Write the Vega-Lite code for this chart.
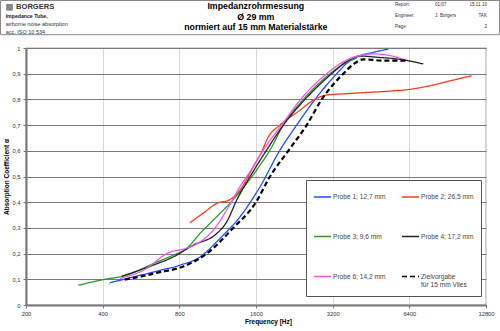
{
  "$schema": "https://vega.github.io/schema/vega-lite/v6.json",
  "width": 460,
  "height": 257,
  "autosize": {"type": "none"},
  "padding": {"left": 26, "top": 48, "right": 14, "bottom": 26},
  "background": "white",
  "config": {
    "font": "Liberation Sans",
    "view": {"stroke": "#666", "strokeWidth": 1.2}
  },
  "datasets": {
    "curves": [
      {"series": "Probe 1; 12,7 mm", "frequency": 425, "alpha": 0.086},
      {"series": "Probe 1; 12,7 mm", "frequency": 528, "alpha": 0.109},
      {"series": "Probe 1; 12,7 mm", "frequency": 672, "alpha": 0.135},
      {"series": "Probe 1; 12,7 mm", "frequency": 805, "alpha": 0.155},
      {"series": "Probe 1; 12,7 mm", "frequency": 964, "alpha": 0.187},
      {"series": "Probe 1; 12,7 mm", "frequency": 1155, "alpha": 0.259},
      {"series": "Probe 1; 12,7 mm", "frequency": 1384, "alpha": 0.343},
      {"series": "Probe 1; 12,7 mm", "frequency": 1659, "alpha": 0.46},
      {"series": "Probe 1; 12,7 mm", "frequency": 1988, "alpha": 0.603},
      {"series": "Probe 1; 12,7 mm", "frequency": 2311, "alpha": 0.7},
      {"series": "Probe 1; 12,7 mm", "frequency": 2728, "alpha": 0.8},
      {"series": "Probe 1; 12,7 mm", "frequency": 3318, "alpha": 0.9},
      {"series": "Probe 1; 12,7 mm", "frequency": 3632, "alpha": 0.94},
      {"series": "Probe 1; 12,7 mm", "frequency": 4096, "alpha": 0.97},
      {"series": "Probe 1; 12,7 mm", "frequency": 4620, "alpha": 0.983},
      {"series": "Probe 1; 12,7 mm", "frequency": 5292, "alpha": 0.996},

      {"series": "Probe 2; 26,5 mm", "frequency": 881, "alpha": 0.32},
      {"series": "Probe 2; 26,5 mm", "frequency": 1000, "alpha": 0.36},
      {"series": "Probe 2; 26,5 mm", "frequency": 1121, "alpha": 0.395},
      {"series": "Probe 2; 26,5 mm", "frequency": 1265, "alpha": 0.41},
      {"series": "Probe 2; 26,5 mm", "frequency": 1384, "alpha": 0.447},
      {"series": "Probe 2; 26,5 mm", "frequency": 1561, "alpha": 0.538},
      {"series": "Probe 2; 26,5 mm", "frequency": 1690, "alpha": 0.6},
      {"series": "Probe 2; 26,5 mm", "frequency": 1789, "alpha": 0.654},
      {"series": "Probe 2; 26,5 mm", "frequency": 1988, "alpha": 0.7},
      {"series": "Probe 2; 26,5 mm", "frequency": 2382, "alpha": 0.758},
      {"series": "Probe 2; 26,5 mm", "frequency": 2686, "alpha": 0.797},
      {"series": "Probe 2; 26,5 mm", "frequency": 3032, "alpha": 0.817},
      {"series": "Probe 2; 26,5 mm", "frequency": 3600, "alpha": 0.822},
      {"series": "Probe 2; 26,5 mm", "frequency": 4352, "alpha": 0.827},
      {"series": "Probe 2; 26,5 mm", "frequency": 5300, "alpha": 0.832},
      {"series": "Probe 2; 26,5 mm", "frequency": 6400, "alpha": 0.839},
      {"series": "Probe 2; 26,5 mm", "frequency": 7946, "alpha": 0.856},
      {"series": "Probe 2; 26,5 mm", "frequency": 9520, "alpha": 0.875},
      {"series": "Probe 2; 26,5 mm", "frequency": 11240, "alpha": 0.892},

      {"series": "Probe 3; 9,6 mm", "frequency": 321, "alpha": 0.077},
      {"series": "Probe 3; 9,6 mm", "frequency": 403, "alpha": 0.099},
      {"series": "Probe 3; 9,6 mm", "frequency": 497, "alpha": 0.116},
      {"series": "Probe 3; 9,6 mm", "frequency": 632, "alpha": 0.161},
      {"series": "Probe 3; 9,6 mm", "frequency": 757, "alpha": 0.194},
      {"series": "Probe 3; 9,6 mm", "frequency": 855, "alpha": 0.22},
      {"series": "Probe 3; 9,6 mm", "frequency": 964, "alpha": 0.278},
      {"series": "Probe 3; 9,6 mm", "frequency": 1155, "alpha": 0.356},
      {"series": "Probe 3; 9,6 mm", "frequency": 1303, "alpha": 0.41},
      {"series": "Probe 3; 9,6 mm", "frequency": 1471, "alpha": 0.473},
      {"series": "Probe 3; 9,6 mm", "frequency": 1659, "alpha": 0.544},
      {"series": "Probe 3; 9,6 mm", "frequency": 1816, "alpha": 0.603},
      {"series": "Probe 3; 9,6 mm", "frequency": 2048, "alpha": 0.7},
      {"series": "Probe 3; 9,6 mm", "frequency": 2454, "alpha": 0.8},
      {"series": "Probe 3; 9,6 mm", "frequency": 3124, "alpha": 0.9},
      {"series": "Probe 3; 9,6 mm", "frequency": 3632, "alpha": 0.945},
      {"series": "Probe 3; 9,6 mm", "frequency": 3976, "alpha": 0.96},

      {"series": "Probe 4; 17,2 mm", "frequency": 475, "alpha": 0.112},
      {"series": "Probe 4; 17,2 mm", "frequency": 632, "alpha": 0.155},
      {"series": "Probe 4; 17,2 mm", "frequency": 757, "alpha": 0.187},
      {"series": "Probe 4; 17,2 mm", "frequency": 908, "alpha": 0.233},
      {"series": "Probe 4; 17,2 mm", "frequency": 1121, "alpha": 0.278},
      {"series": "Probe 4; 17,2 mm", "frequency": 1227, "alpha": 0.323},
      {"series": "Probe 4; 17,2 mm", "frequency": 1344, "alpha": 0.408},
      {"series": "Probe 4; 17,2 mm", "frequency": 1515, "alpha": 0.499},
      {"series": "Probe 4; 17,2 mm", "frequency": 1762, "alpha": 0.603},
      {"series": "Probe 4; 17,2 mm", "frequency": 2048, "alpha": 0.7},
      {"series": "Probe 4; 17,2 mm", "frequency": 2492, "alpha": 0.8},
      {"series": "Probe 4; 17,2 mm", "frequency": 3172, "alpha": 0.9},
      {"series": "Probe 4; 17,2 mm", "frequency": 3632, "alpha": 0.947},
      {"series": "Probe 4; 17,2 mm", "frequency": 4096, "alpha": 0.969},
      {"series": "Probe 4; 17,2 mm", "frequency": 4764, "alpha": 0.964},
      {"series": "Probe 4; 17,2 mm", "frequency": 5880, "alpha": 0.956},
      {"series": "Probe 4; 17,2 mm", "frequency": 7262, "alpha": 0.938},

      {"series": "Probe 6; 14,2 mm", "frequency": 468, "alpha": 0.103},
      {"series": "Probe 6; 14,2 mm", "frequency": 578, "alpha": 0.135},
      {"series": "Probe 6; 14,2 mm", "frequency": 735, "alpha": 0.206},
      {"series": "Probe 6; 14,2 mm", "frequency": 829, "alpha": 0.217},
      {"series": "Probe 6; 14,2 mm", "frequency": 964, "alpha": 0.245},
      {"series": "Probe 6; 14,2 mm", "frequency": 1087, "alpha": 0.291},
      {"series": "Probe 6; 14,2 mm", "frequency": 1227, "alpha": 0.369},
      {"series": "Probe 6; 14,2 mm", "frequency": 1384, "alpha": 0.46},
      {"series": "Probe 6; 14,2 mm", "frequency": 1561, "alpha": 0.538},
      {"series": "Probe 6; 14,2 mm", "frequency": 1709, "alpha": 0.603},
      {"series": "Probe 6; 14,2 mm", "frequency": 2018, "alpha": 0.7},
      {"series": "Probe 6; 14,2 mm", "frequency": 2382, "alpha": 0.797},
      {"series": "Probe 6; 14,2 mm", "frequency": 3032, "alpha": 0.9},
      {"series": "Probe 6; 14,2 mm", "frequency": 3632, "alpha": 0.953},
      {"series": "Probe 6; 14,2 mm", "frequency": 4620, "alpha": 0.977},
      {"series": "Probe 6; 14,2 mm", "frequency": 5216, "alpha": 0.973},
      {"series": "Probe 6; 14,2 mm", "frequency": 6060, "alpha": 0.956},

      {"series": "Zielvorgabe für 15 mm Vlies", "frequency": 489, "alpha": 0.099},
      {"series": "Zielvorgabe für 15 mm Vlies", "frequency": 560, "alpha": 0.11},
      {"series": "Zielvorgabe für 15 mm Vlies", "frequency": 652, "alpha": 0.125},
      {"series": "Zielvorgabe für 15 mm Vlies", "frequency": 829, "alpha": 0.15},
      {"series": "Zielvorgabe für 15 mm Vlies", "frequency": 1025, "alpha": 0.2},
      {"series": "Zielvorgabe für 15 mm Vlies", "frequency": 1303, "alpha": 0.3},
      {"series": "Zielvorgabe für 15 mm Vlies", "frequency": 1600, "alpha": 0.4},
      {"series": "Zielvorgabe für 15 mm Vlies", "frequency": 1816, "alpha": 0.5},
      {"series": "Zielvorgabe für 15 mm Vlies", "frequency": 2142, "alpha": 0.6},
      {"series": "Zielvorgabe für 15 mm Vlies", "frequency": 2530, "alpha": 0.7},
      {"series": "Zielvorgabe für 15 mm Vlies", "frequency": 2898, "alpha": 0.8},
      {"series": "Zielvorgabe für 15 mm Vlies", "frequency": 3524, "alpha": 0.9},
      {"series": "Zielvorgabe für 15 mm Vlies", "frequency": 3900, "alpha": 0.94},
      {"series": "Zielvorgabe für 15 mm Vlies", "frequency": 4222, "alpha": 0.956},
      {"series": "Zielvorgabe für 15 mm Vlies", "frequency": 5060, "alpha": 0.951},
      {"series": "Zielvorgabe für 15 mm Vlies", "frequency": 6250, "alpha": 0.951}
    ]
  },
  "layer": [
    {
      "data": {"name": "curves"},
      "transform": [{"filter": "datum.series != 'Zielvorgabe für 15 mm Vlies'"}],
      "mark": {"type": "line", "interpolate": "monotone", "strokeWidth": 1.3},
      "encoding": {
        "x": {
          "field": "frequency", "type": "quantitative",
          "scale": {"type": "log", "base": 2, "domain": [200, 12800], "nice": false},
          "axis": {
            "title": "Frequency [Hz]",
            "values": [200, 400, 800, 1600, 3200, 6400, 12800],
            "tickCount": 20,
            "format": "d",
            "labelFontSize": 5.8, "labelColor": "#333", "labelPadding": 2, "labelFlush": false,
            "tickSize": 3, "tickColor": "#777",
            "domainColor": "#777", "domainWidth": 2,
            "gridColor": "#d9d9d9", "gridWidth": 1,
            "titleFontSize": 6.5, "titleFontWeight": "bold", "titleColor": "#000",
            "titlePadding": 3, "titleX": 242, "titleAlign": "center"
          }
        },
        "y": {
          "field": "alpha", "type": "quantitative",
          "scale": {"domain": [0, 1], "nice": false, "zero": false},
          "axis": {
            "title": "Absorption Coefficient α",
            "values": [0, 0.1, 0.2, 0.3, 0.4, 0.5, 0.6, 0.7, 0.8, 0.9, 1],
            "tickCount": 20,
            "labelExpr": "replace(format(datum.value, '.1~f'), '.', ',')",
            "labelFontSize": 5.8, "labelColor": "#333", "labelPadding": 3, "labelFlush": false,
            "labelOverlap": false,
            "tickSize": 3, "tickColor": "#777",
            "domainColor": "#777", "domainWidth": 2,
            "gridColor": "#7a7a7a", "gridWidth": 1,
            "titleFontSize": 6.5, "titleFontWeight": "bold", "titleColor": "#000",
            "titlePadding": 2
          }
        },
        "color": {
          "field": "series", "type": "nominal",
          "scale": {
            "domain": ["Probe 1; 12,7 mm", "Probe 2; 26,5 mm", "Probe 3; 9,6 mm", "Probe 4; 17,2 mm", "Probe 6; 14,2 mm", "Zielvorgabe für 15 mm Vlies"],
            "range": ["#1f4fff", "#ff3a1a", "#2a9a2a", "#222222", "#ee55ee", "#000000"]
          },
          "legend": {
            "orient": "none", "legendX": 280, "legendY": 132,
            "title": null, "columns": 2, "direction": "horizontal",
            "symbolType": "stroke", "symbolSize": 289, "symbolStrokeWidth": 1.6,
            "labelFontSize": 6.6, "labelColor": "#444", "labelOffset": 1, "labelLimit": 120,
            "rowPadding": 26, "columnPadding": 12, "padding": 7,
            "strokeColor": "#555", "fillColor": "white",
            "labelExpr": "datum.label == 'Zielvorgabe für 15 mm Vlies' ? ['Zielvorgabe', 'für 15 mm Vlies'] : datum.label"
          }
        },
        "strokeDash": {
          "field": "series", "type": "nominal",
          "scale": {
            "domain": ["Probe 1; 12,7 mm", "Probe 2; 26,5 mm", "Probe 3; 9,6 mm", "Probe 4; 17,2 mm", "Probe 6; 14,2 mm", "Zielvorgabe für 15 mm Vlies"],
            "range": [[1, 0], [1, 0], [1, 0], [1, 0], [1, 0], [5, 3]]
          }
        }
      }
    },
    {
      "data": {"name": "curves"},
      "transform": [{"filter": "datum.series == 'Zielvorgabe für 15 mm Vlies'"}],
      "mark": {"type": "line", "interpolate": "monotone", "strokeWidth": 2.2},
      "encoding": {
        "x": {"field": "frequency", "type": "quantitative"},
        "y": {"field": "alpha", "type": "quantitative"},
        "color": {"field": "series", "type": "nominal"},
        "strokeDash": {"field": "series", "type": "nominal"}
      }
    },
    {
      "data": {"values": [{}]},
      "mark": {"type": "rect", "fill": null, "stroke": "#888", "strokeWidth": 1},
      "encoding": {
        "x": {"datum": 158.8}, "x2": {"datum": 14460},
        "y": {"datum": 1.1848}, "y2": {"datum": 1.0518}
      }
    },
    {
      "data": {"values": [{}]},
      "mark": {"type": "text", "align": "center", "baseline": "top", "fontSize": 8.8, "fontWeight": "bold", "lineHeight": 10.5, "color": "#000"},
      "encoding": {"x": {"datum": 1597}, "y": {"datum": 1.1774}, "text": {"datum": ["Impedanzrohrmessung", "Ø 29 mm", "normiert auf 15 mm Materialstärke"]}}
    },
    {
      "data": {"values": [{}]},
      "mark": {"type": "point", "shape": "square", "filled": true, "color": "#555", "size": 45},
      "encoding": {"x": {"datum": 172.3}, "y": {"datum": 1.1584}}
    },
    {
      "data": {"values": [{}]},
      "mark": {"type": "text", "align": "left", "baseline": "middle", "fontSize": 7.6, "fontWeight": 900, "color": "#333"},
      "encoding": {"x": {"datum": 182.7}, "y": {"datum": 1.1584}, "text": {"datum": "BORGERS"}}
    },
    {
      "data": {"values": [{}]},
      "mark": {"type": "text", "align": "left", "baseline": "middle", "fontSize": 5.2, "fontWeight": "bold", "color": "#222"},
      "encoding": {"x": {"datum": 166.4}, "y": {"datum": 1.1245}, "text": {"datum": "Impedance Tube,"}}
    },
    {
      "data": {"values": [{}]},
      "mark": {"type": "text", "align": "left", "baseline": "middle", "fontSize": 5.5, "color": "#333"},
      "encoding": {"x": {"datum": 166.4}, "y": {"datum": 1.0934}, "text": {"datum": "airborne noise absorption"}}
    },
    {
      "data": {"values": [{}]},
      "mark": {"type": "text", "align": "left", "baseline": "middle", "fontSize": 5.5, "color": "#333"},
      "encoding": {"x": {"datum": 166.4}, "y": {"datum": 1.0611}, "text": {"datum": "acc. ISO 10 534"}}
    },
    {
      "data": {"values": [{}]},
      "mark": {"type": "text", "align": "left", "baseline": "top", "fontSize": 4.6, "lineHeight": 10.85, "color": "#333"},
      "encoding": {"x": {"datum": 5622}, "y": {"datum": 1.179}, "text": {"datum": ["Report:", "Engineer:", "Page:"]}}
    },
    {
      "data": {"values": [{}]},
      "mark": {"type": "text", "align": "left", "baseline": "top", "fontSize": 4.6, "lineHeight": 10.85, "color": "#333"},
      "encoding": {"x": {"datum": 8074}, "y": {"datum": 1.179}, "text": {"datum": ["01/07", "J. Borgers", ""]}}
    },
    {
      "data": {"values": [{}]},
      "mark": {"type": "text", "align": "right", "baseline": "top", "fontSize": 4.6, "lineHeight": 10.85, "color": "#333"},
      "encoding": {"x": {"datum": 12916}, "y": {"datum": 1.179}, "text": {"datum": ["15.11.10", "TAK", "2"]}}
    }
  ]
}
